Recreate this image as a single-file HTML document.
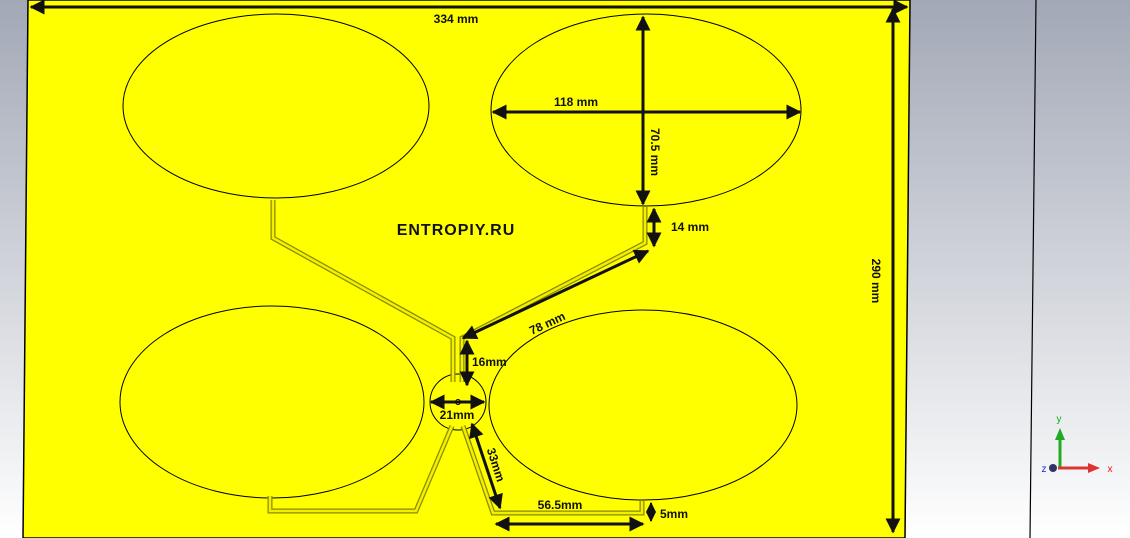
<!DOCTYPE html>
<html><head><style>
html,body{margin:0;padding:0;width:1130px;height:538px;overflow:hidden;}
body{background:linear-gradient(#a2a8b6,#ffffff);}
svg{position:absolute;left:0;top:0;}
text{font-family:"Liberation Sans",Arial,sans-serif;font-weight:bold;fill:#111;}
</style></head><body>
<svg width="1130" height="538" viewBox="0 0 1130 538" xmlns="http://www.w3.org/2000/svg">
<defs>
<marker id="a" viewBox="0 0 10 10" refX="9" refY="5" markerWidth="5.5" markerHeight="5" orient="auto-start-reverse" markerUnits="strokeWidth"><path d="M0,0 L10,5 L0,10 z" fill="#111"/></marker>
</defs>
<polygon points="28,0 910,0 905,538 23,538" fill="#ffff00" stroke="#000" stroke-width="1.5"/>
<line x1="1036" y1="0" x2="1030" y2="538" stroke="#000" stroke-width="1.2"/>
<g fill="none" stroke="#000" stroke-width="1">
<ellipse cx="276" cy="106" rx="153" ry="92"/>
<ellipse cx="646" cy="110" rx="155" ry="96"/>
<ellipse cx="272" cy="402" rx="152" ry="96"/>
<ellipse cx="643" cy="405" rx="154" ry="95"/>
<circle cx="458" cy="402" r="28"/>
<circle cx="458" cy="402" r="2.5"/>
</g>
<g fill="none" stroke-linejoin="miter">
<g stroke="#8a8a00" stroke-width="5">
<polyline points="273,200 273,238 453,338 453,382"/>
<polyline points="645,207 645,243 462,338 462,382"/>
<polyline points="452,426 416,511 270,511 270,496"/>
<polyline points="463,426 493,513 642,513 642,501"/>
</g>
<g stroke="#f0f000" stroke-width="2.5">
<polyline points="273,200 273,238 453,338 453,382"/>
<polyline points="645,207 645,243 462,338 462,382"/>
<polyline points="452,426 416,511 270,511 270,496"/>
<polyline points="463,426 493,513 642,513 642,501"/>
</g>
</g>
<g stroke="#111" stroke-width="3" marker-start="url(#a)" marker-end="url(#a)">
<line x1="31" y1="7" x2="907" y2="7"/>
<line x1="893" y1="9" x2="893" y2="532"/>
<line x1="493" y1="112" x2="800" y2="112"/>
<line x1="643" y1="17" x2="643" y2="204"/>
<line x1="654" y1="209" x2="654" y2="246"/>
<line x1="463" y1="338" x2="648" y2="251"/>
<line x1="467" y1="341" x2="467" y2="385"/>
<line x1="431" y1="402" x2="484" y2="402"/>
<line x1="472" y1="424" x2="500" y2="508"/>
<line x1="496" y1="524" x2="643" y2="524"/>
</g>
<g stroke="#111" stroke-width="2" marker-start="url(#a)" marker-end="url(#a)">
<line x1="651" y1="503" x2="651" y2="521"/>
</g>
<text x="456" y="23" font-size="12" text-anchor="middle">334 mm</text>
<text x="0" y="0" font-size="12" text-anchor="middle" transform="translate(872,281) rotate(90)">290 mm</text>
<text x="576" y="106" font-size="12" text-anchor="middle">118 mm</text>
<text x="0" y="0" font-size="12" text-anchor="middle" transform="translate(651,152) rotate(90)">70.5 mm</text>
<text x="671" y="231" font-size="12">14 mm</text>
<text x="0" y="0" font-size="12" text-anchor="middle" transform="translate(549,327) rotate(-25)">78 mm</text>
<text x="472" y="366" font-size="12">16mm</text>
<text x="457" y="419" font-size="12" text-anchor="middle">21mm</text>
<text x="0" y="0" font-size="12" text-anchor="middle" transform="translate(492,466) rotate(72)">33mm</text>
<text x="560" y="509" font-size="12" text-anchor="middle">56.5mm</text>
<text x="660" y="518" font-size="12">5mm</text>
<text x="456" y="235" font-size="16" text-anchor="middle" letter-spacing="1">ENTROPIY.RU</text>
<g>
<line x1="1060" y1="468" x2="1060" y2="432" stroke="#2a2" stroke-width="3"/>
<polygon points="1055,440 1060,428 1065,440" fill="#2a2"/>
<line x1="1058" y1="468" x2="1092" y2="468" stroke="#d33" stroke-width="3"/>
<polygon points="1088,463 1100,468 1088,473" fill="#d33"/>
<circle cx="1053" cy="468" r="4" fill="#336"/>
<text x="1059" y="422" font-size="10" text-anchor="middle" style="fill:#1a1;font-weight:normal">y</text>
<text x="1110" y="472" font-size="10" text-anchor="middle" style="fill:#e11;font-weight:normal">x</text>
<text x="1044" y="472" font-size="10" text-anchor="middle" style="fill:#22d;font-weight:normal">z</text>
</g>
</svg>
</body></html>
